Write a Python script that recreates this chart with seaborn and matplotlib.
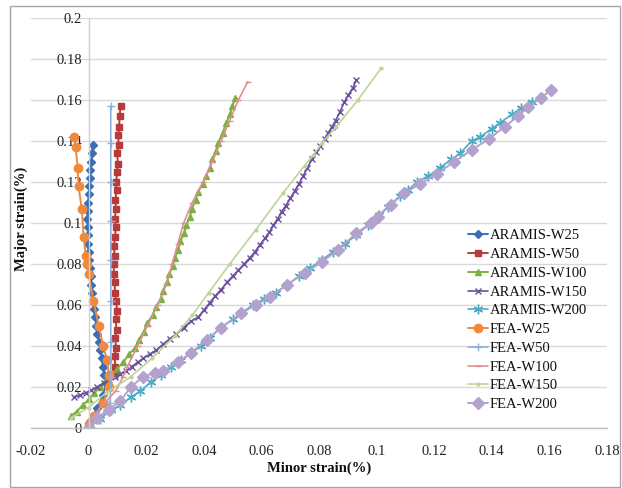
import matplotlib
matplotlib.use("Agg")
import matplotlib.pyplot as plt
import seaborn as sns
import pandas as pd
from matplotlib.patches import Rectangle

# ---------------- data ----------------
aramis_w25_x = [0.0010, 0.0030, 0.0050, 0.0060, 0.0055, 0.0050, 0.0046, 0.0040, 0.0036, 0.0030, 0.0027,
                0.0022, 0.0018, 0.0015, 0.0012, 0.0010, 0.0007, 0.0004, 0.0002, 0.0000, -0.0002,
                -0.0003, -0.0002, -0.0004, -0.0003, -0.0001, 0.0000, 0.0002, 0.0004, 0.0006, 0.0009,
                0.0012, 0.0015]
aramis_w25_y = [0.004, 0.010, 0.016, 0.022, 0.026, 0.030, 0.034, 0.038, 0.042, 0.046, 0.050,
                0.054, 0.058, 0.062, 0.066, 0.070, 0.074, 0.078, 0.082, 0.086, 0.090,
                0.094, 0.098, 0.102, 0.106, 0.110, 0.114, 0.118, 0.122, 0.126, 0.130,
                0.134, 0.138]

aramis_w50_x = [0.0088, 0.0093, 0.0090, 0.0096, 0.0092, 0.0097, 0.0094, 0.0099, 0.0095, 0.0092,
                0.0090, 0.0088, 0.0087, 0.0090, 0.0088, 0.0092, 0.0094, 0.0091, 0.0095, 0.0093,
                0.0097, 0.0096, 0.0099, 0.0101, 0.0100, 0.0104, 0.0103, 0.0106, 0.0108, 0.0111]
aramis_w50_y = [0.026, 0.030, 0.035, 0.039, 0.044, 0.048, 0.053, 0.057, 0.062, 0.066,
                0.071, 0.075, 0.080, 0.084, 0.089, 0.093, 0.098, 0.102, 0.107, 0.111,
                0.116, 0.120, 0.125, 0.129, 0.134, 0.138, 0.143, 0.147, 0.152, 0.157]

aramis_w100_x = [-0.0060, -0.0042, -0.0021, 0.0001, 0.0019, 0.0041, 0.0058, 0.0081, 0.0099, 0.0121,
                 0.0139, 0.0161, 0.0174, 0.0192, 0.0203, 0.0222, 0.0233, 0.0250, 0.0258, 0.0272,
                 0.0279, 0.0292, 0.0299, 0.0312, 0.0318, 0.0332, 0.0339, 0.0352, 0.0358, 0.0372,
                 0.0379, 0.0396, 0.0408, 0.0421, 0.0429, 0.0442, 0.0449, 0.0466, 0.0478, 0.0491,
                 0.0499, 0.0510]
aramis_w100_y = [0.006, 0.008, 0.011, 0.014, 0.017, 0.020, 0.023, 0.026, 0.029, 0.032,
                 0.036, 0.039, 0.043, 0.047, 0.051, 0.055, 0.059, 0.063, 0.067, 0.071,
                 0.075, 0.079, 0.083, 0.087, 0.091, 0.095, 0.099, 0.103, 0.107, 0.111,
                 0.115, 0.119, 0.123, 0.127, 0.131, 0.135, 0.139, 0.144, 0.149, 0.153,
                 0.157, 0.161]

aramis_w150_x = [-0.0052, -0.0030, -0.0010, 0.0010, 0.0030, 0.0052, 0.0072, 0.0090, 0.0110, 0.0130,
                 0.0150, 0.0170, 0.0190, 0.0212, 0.0235, 0.0260, 0.0282, 0.0305, 0.0330, 0.0355,
                 0.0380, 0.0400, 0.0420, 0.0440, 0.0460, 0.0480, 0.0500, 0.0520, 0.0540, 0.0560,
                 0.0578, 0.0595, 0.0612, 0.0628, 0.0642, 0.0656, 0.0670, 0.0685, 0.0700, 0.0715,
                 0.0730, 0.0745, 0.0760, 0.0775, 0.0790, 0.0805, 0.0820, 0.0832, 0.0845, 0.0858,
                 0.0872, 0.0888, 0.0902, 0.0918, 0.0930]
aramis_w150_y = [0.0150, 0.0160, 0.0172, 0.0185, 0.0200, 0.0220, 0.0235, 0.0248, 0.0262, 0.0278,
                 0.0300, 0.0320, 0.0340, 0.0360, 0.0380, 0.0410, 0.0435, 0.0460, 0.0490, 0.0520,
                 0.0540, 0.0575, 0.0610, 0.0645, 0.0675, 0.0710, 0.0740, 0.0770, 0.0800, 0.0830,
                 0.0860, 0.0895, 0.0925, 0.0955, 0.0990, 0.1020, 0.1055, 0.1085, 0.1120, 0.1155,
                 0.1190, 0.1230, 0.1270, 0.1310, 0.1345, 0.1375, 0.1410, 0.1440, 0.1470, 0.1500,
                 0.1540, 0.1590, 0.1625, 0.1660, 0.1700]

aramis_w200_x = [0.0000, 0.0040, 0.0077, 0.0110, 0.0146, 0.0180, 0.0216, 0.0250, 0.0285, 0.0320,
                 0.0355, 0.0390, 0.0420, 0.0460, 0.0500, 0.0530, 0.0570, 0.0610, 0.0650, 0.0690,
                 0.0730, 0.0770, 0.0810, 0.0850, 0.0890, 0.0930, 0.0970, 0.1010, 0.1040, 0.1080,
                 0.1110, 0.1140, 0.1180, 0.1220, 0.1260, 0.1290, 0.1330, 0.1360, 0.1400, 0.1430,
                 0.1470, 0.1500, 0.1540]
aramis_w200_y = [0.0000, 0.0045, 0.0088, 0.0110, 0.0150, 0.0180, 0.0224, 0.0260, 0.0300, 0.0330,
                 0.0366, 0.0400, 0.0440, 0.0490, 0.0530, 0.0560, 0.0600, 0.0630, 0.0660, 0.0700,
                 0.0740, 0.0780, 0.0820, 0.0860, 0.0900, 0.0940, 0.0990, 0.1040, 0.1080, 0.1130,
                 0.1160, 0.1200, 0.1230, 0.1270, 0.1310, 0.1340, 0.1400, 0.1420, 0.1460, 0.1490,
                 0.1530, 0.1560, 0.1590]

fea_w25_x = [0.0000, 0.0020, 0.0050, 0.0070, 0.0070, 0.0065, 0.0050, 0.0035, 0.0017, 0.0000,
             -0.0005, -0.0010, -0.0017, -0.0024, -0.0035, -0.0038, -0.0045, -0.0050]
fea_w25_y = [0.002, 0.006, 0.012, 0.020, 0.026, 0.033, 0.040, 0.050, 0.062, 0.075,
             0.080, 0.084, 0.093, 0.107, 0.118, 0.127, 0.137, 0.142]

fea_w50_x = [0.0000, 0.0040, 0.0075, 0.0077, 0.0077, 0.0077, 0.0077, 0.0077, 0.0077, 0.0077, 0.0077]
fea_w50_y = [0.000, 0.005, 0.012, 0.025, 0.042, 0.062, 0.082, 0.101, 0.120, 0.139, 0.157]

fea_w100_x = [0.0000, 0.0030, 0.0060, 0.0094, 0.0120, 0.0135, 0.0170, 0.0205, 0.0240, 0.0270,
              0.0290, 0.0310, 0.0330, 0.0360, 0.0397, 0.0430, 0.0460, 0.0490, 0.0520, 0.0553]
fea_w100_y = [0.004, 0.008, 0.013, 0.018, 0.025, 0.030, 0.040, 0.050, 0.060, 0.070,
              0.080, 0.090, 0.100, 0.110, 0.120, 0.130, 0.140, 0.150, 0.160, 0.169]

fea_w150_x = [-0.0060, 0.0000, 0.0060, 0.0146, 0.0220, 0.0300, 0.0360, 0.0417, 0.0490, 0.0580,
              0.0675, 0.0750, 0.0780, 0.0810, 0.0860, 0.0935, 0.1016]
fea_w150_y = [0.005, 0.010, 0.017, 0.025, 0.034, 0.045, 0.055, 0.066, 0.080, 0.0966,
              0.1146, 0.128, 0.133, 0.139, 0.147, 0.160, 0.1756]

fea_w200_x = [0.0000, 0.0030, 0.0070, 0.0110, 0.0146, 0.0190, 0.0230, 0.0260, 0.0310, 0.0355,
              0.0410, 0.0460, 0.0530, 0.0580, 0.0630, 0.0690, 0.0750, 0.0810, 0.0866, 0.0930,
              0.0980, 0.1005, 0.1050, 0.1096, 0.1150, 0.1210, 0.1270, 0.1330, 0.1390, 0.1445,
              0.1490, 0.1527, 0.1570, 0.1607]
fea_w200_y = [0.000, 0.005, 0.009, 0.013, 0.020, 0.025, 0.027, 0.028, 0.032, 0.0366,
              0.043, 0.049, 0.056, 0.060, 0.064, 0.070, 0.0756, 0.081, 0.087, 0.095,
              0.100, 0.103, 0.109, 0.1146, 0.119, 0.124, 0.130, 0.1356, 0.141, 0.147,
              0.152, 0.1566, 0.161, 0.165]

series_names = ["ARAMIS-W25", "ARAMIS-W50", "ARAMIS-W100", "ARAMIS-W150", "ARAMIS-W200",
                "FEA-W25", "FEA-W50", "FEA-W100", "FEA-W150", "FEA-W200"]
series_x = [aramis_w25_x, aramis_w50_x, aramis_w100_x, aramis_w150_x, aramis_w200_x,
            fea_w25_x, fea_w50_x, fea_w100_x, fea_w150_x, fea_w200_x]
series_y = [aramis_w25_y, aramis_w50_y, aramis_w100_y, aramis_w150_y, aramis_w200_y,
            fea_w25_y, fea_w50_y, fea_w100_y, fea_w150_y, fea_w200_y]

x_ticks = [-0.02, 0, 0.02, 0.04, 0.06, 0.08, 0.1, 0.12, 0.14, 0.16, 0.18]
x_tick_labels = ["-0.02", "0", "0.02", "0.04", "0.06", "0.08", "0.1", "0.12", "0.14", "0.16", "0.18"]
y_ticks = [0, 0.02, 0.04, 0.06, 0.08, 0.1, 0.12, 0.14, 0.16, 0.18, 0.2]
y_tick_labels = ["0", "0.02", "0.04", "0.06", "0.08", "0.1", "0.12", "0.14", "0.16", "0.18", "0.2"]

# ---------------- styles ----------------
colors = ["#3C6EB4", "#B83B3B", "#7DB043", "#6B4F9E", "#4BACC6",
          "#F0893B", "#8DB1DB", "#E0908F", "#BDD597", "#B3A2CE"]
markers = ["D", "s", "^", "x", (6, 2, 0), "o", "+", "_", ".", "D"]
msizes = [4, 4, 5, 5, 7, 6, 6, 5, 4, 6]
lwidths = [1.4, 1.4, 1.4, 1.2, 1.2, 1.4, 1.2, 1.2, 1.2, 1.4]

sns.set_theme(style="white")
plt.rcParams["font.family"] = ["Liberation Serif", "DejaVu Serif"]

fig = plt.figure(figsize=(6.22, 4.88), dpi=100)
ax = fig.add_axes([31 / 622, 1 - 428 / 488, 576 / 622, 410 / 488])

for name, xs, ys, c, m, ms, lw in zip(series_names, series_x, series_y, colors, markers, msizes, lwidths):
    df = pd.DataFrame({"x": xs, "y": ys})
    sns.lineplot(data=df, x="x", y="y", ax=ax, sort=False, estimator=None,
                 color=c, marker=m, markersize=ms, linewidth=lw, label=name,
                 markeredgecolor=c, markerfacecolor=c, markeredgewidth=1.0)

ax.set_xlim(-0.02, 0.18)
ax.set_ylim(0, 0.2)
ax.set_xticks(x_ticks)
ax.set_xticklabels(x_tick_labels)
ax.set_yticks(y_ticks)
ax.set_yticklabels(y_tick_labels)

ax.grid(axis="y", color="#D9D9D9", linewidth=1.0)
ax.grid(axis="x", visible=False)
ax.set_axisbelow(True)

for s in ["top", "right"]:
    ax.spines[s].set_visible(False)
ax.spines["left"].set_position(("data", 0))
ax.spines["left"].set_color("#D0D0D0")
ax.spines["bottom"].set_color("#BFBFBF")
ax.spines["left"].set_linewidth(1.0)
ax.spines["bottom"].set_linewidth(1.0)

ax.tick_params(axis="both", labelsize=10.5, colors="#222222")
ax.tick_params(axis="x", length=4, width=0.8, color="#BFBFBF", pad=8, direction="out")
ax.tick_params(axis="y", length=4, width=0.8, color="#D0D0D0", pad=1, direction="out")

ax.set_xlabel("Minor strain(%)", fontsize=10.5, fontweight="bold", color="#111111", labelpad=3)
ax.set_ylabel("Major strain(%)", fontsize=10.5, fontweight="bold", color="#111111")

leg = ax.legend(loc="upper left", bbox_to_anchor=(0.758, 0.485), frameon=False,
                fontsize=10.5, handlelength=1.4, handletextpad=0.1, labelspacing=0.38,
                borderaxespad=0.0, borderpad=0.0)
for t in leg.get_texts():
    t.set_color("#111111")

# y label sits at the far left of the chart area
ax.yaxis.set_label_coords((28 - 31) / 576, 0.51)

fig.patches.append(Rectangle((10 / 622, 1 / 488), 610 / 622, 481 / 488, transform=fig.transFigure,
                             fill=False, edgecolor="#A6A6A6", linewidth=1.0))

fig.savefig("out.png", dpi=100)
